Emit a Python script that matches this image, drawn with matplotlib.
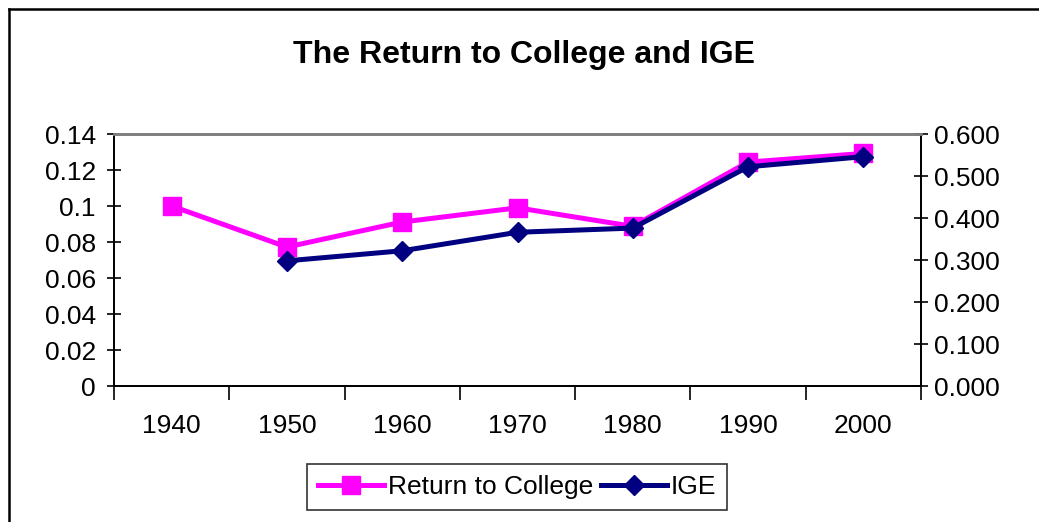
import numpy as np
import matplotlib
matplotlib.use("Agg")
import matplotlib.pyplot as plt
from matplotlib.lines import Line2D

plt.rcParams['font.family'] = ['Liberation Sans', 'DejaVu Sans']

# data
years = ['1940', '1950', '1960', '1970', '1980', '1990', '2000']
return_college = [0.100, 0.0772, 0.0911, 0.0990, 0.0887, 0.1244, 0.1292]
ige = [np.nan, 0.298, 0.322, 0.366, 0.376, 0.522, 0.546]
left_ticks = [0, 0.02, 0.04, 0.06, 0.08, 0.1, 0.12, 0.14]
left_labels = ['0', '0.02', '0.04', '0.06', '0.08', '0.1', '0.12', '0.14']
right_ticks = [0.0, 0.1, 0.2, 0.3, 0.4, 0.5, 0.6]

W, H = 1039, 522
fig = plt.figure(figsize=(W / 100, H / 100), dpi=100)
ax = fig.add_axes([114 / W, 1 - 386 / H, (921 - 114) / W, (386 - 134) / H])
ax2 = ax.twinx()

x = np.arange(len(years))
pink = '#FF00FF'
navy = '#000080'
fs = 19

ax.plot(x, return_college, color=pink, lw=3.6, marker='s', ms=13,
        mec=pink, mfc=pink, label='Return to College')
ax2.plot(x, ige, color=navy, lw=3.6, marker='D', ms=10,
         mec=navy, mfc=navy, label='IGE')

ax.set_xlim(-0.5, len(years) - 0.5)
ax.set_ylim(0, 0.14)
ax2.set_ylim(0, 0.6)

# category boundaries get the tick marks, centres get the labels
ax.set_xticks(np.arange(len(years) + 1) - 0.5)
ax.set_xticklabels([])
ax.set_xticks(x, minor=True)
ax.set_xticklabels(years, minor=True)
ax.tick_params(axis='x', which='major', direction='out', length=10, width=1.2)
ax.tick_params(axis='x', which='minor', length=0, pad=20, labelsize=fs)

ax.set_yticks(left_ticks)
ax.set_yticklabels(left_labels)
ax.tick_params(axis='y', direction='inout', length=10, width=1.2, pad=8,
               labelsize=fs)

ax2.set_yticks(right_ticks)
ax2.set_yticklabels(['%.3f' % t for t in right_ticks])
ax2.tick_params(axis='y', direction='inout', length=10, width=1.2, pad=4,
                labelsize=fs)

for a in (ax, ax2):
    for s in ('left', 'bottom', 'right'):
        a.spines[s].set_linewidth(1.3)
        a.spines[s].set_color('black')
    a.spines['top'].set_color('#808080')
    a.spines['top'].set_linewidth(2)

fig.text(524 / W, 1 - 55 / H, 'The Return to College and IGE',
         ha='center', va='center', fontsize=23, fontweight='bold')

h1, l1 = ax.get_legend_handles_labels()
h2, l2 = ax2.get_legend_handles_labels()
leg = fig.legend(h1 + h2, l1 + l2, loc='center',
                 bbox_to_anchor=(517 / W, 1 - 487 / H), ncol=2,
                 fontsize=fs, frameon=True, fancybox=False, handlelength=2.5,
                 handletextpad=0.15, columnspacing=0.3, borderpad=0.4,
                 borderaxespad=0)
leg.get_frame().set_edgecolor('black')
leg.get_frame().set_linewidth(1.2)

# outer chart border (only top and left visible in the crop)
fig.add_artist(Line2D([8.5 / W, 8.5 / W], [0, 1 - 8.5 / H], color='black', lw=1.8))
fig.add_artist(Line2D([8.5 / W, 1], [1 - 8.5 / H, 1 - 8.5 / H], color='black', lw=1.8))

fig.savefig('out.png', dpi=100)
